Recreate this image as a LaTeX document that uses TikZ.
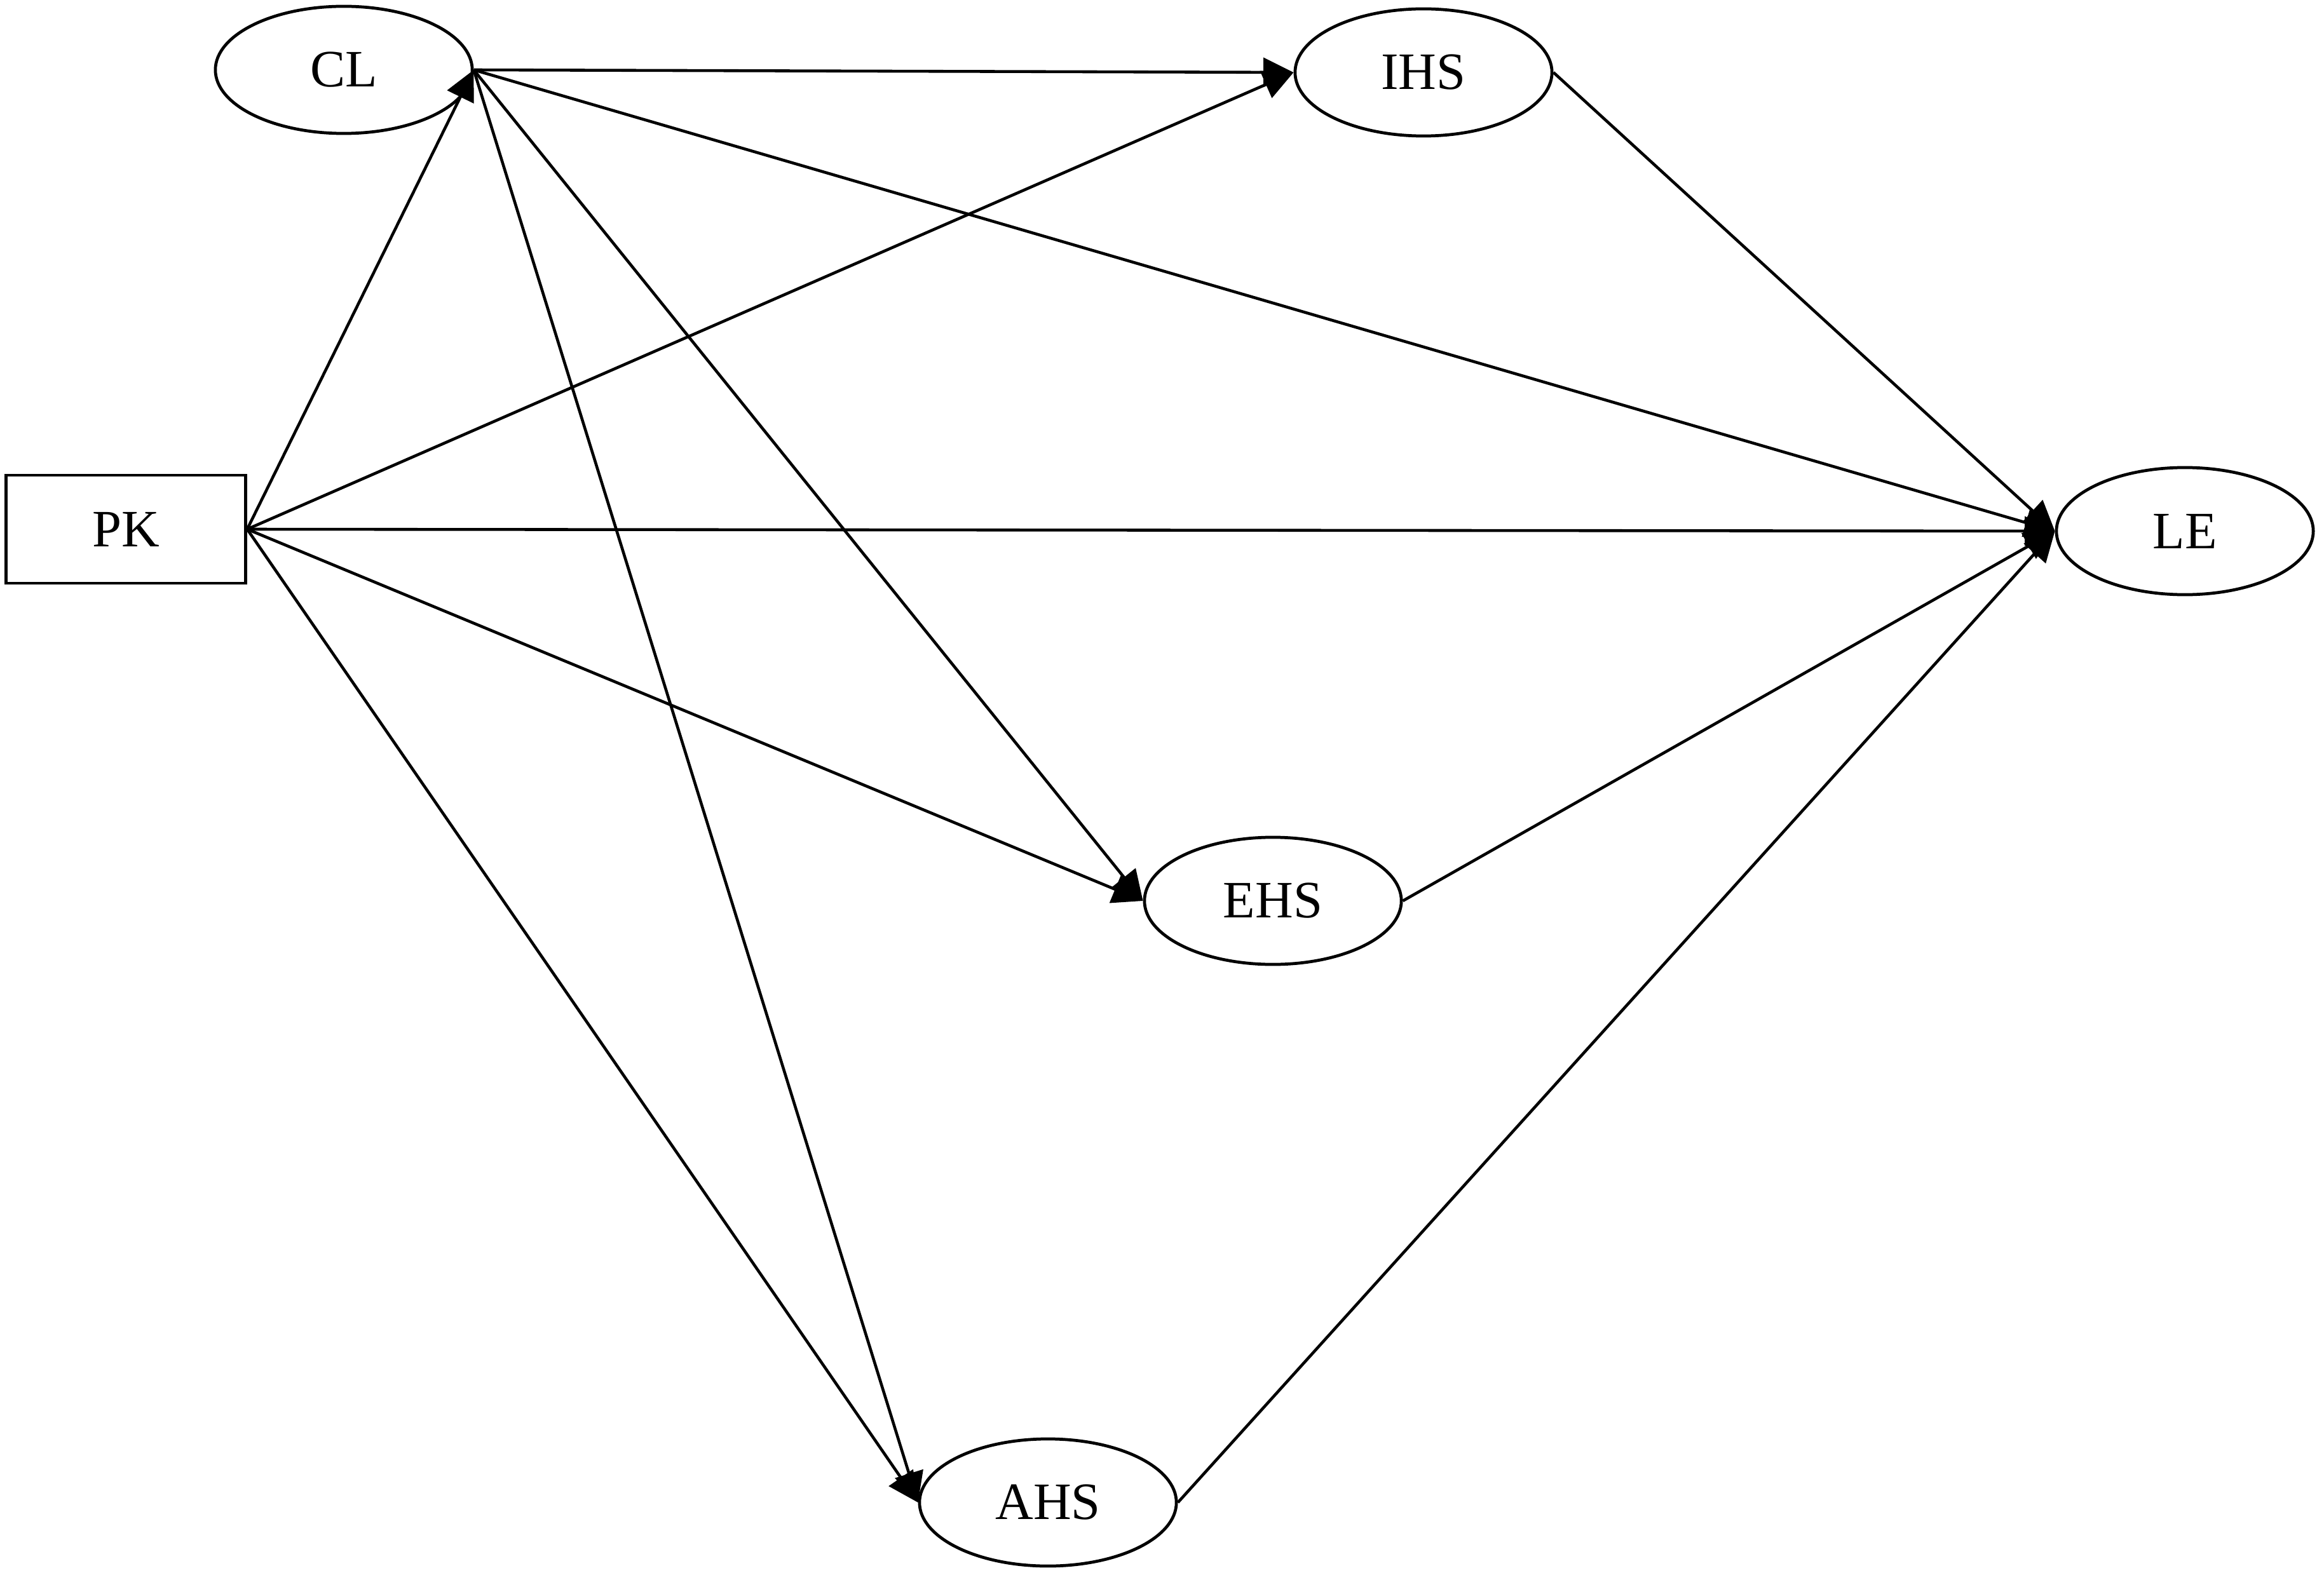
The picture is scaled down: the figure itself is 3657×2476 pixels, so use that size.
\documentclass[tikz,border=0pt]{standalone}
\usepackage{fontspec}
\setmainfont{Liberation Serif}
\usetikzlibrary{shapes.geometric,arrows.meta}
\begin{document}
\begin{tikzpicture}[x=0.01cm,y=-0.01cm,
  lat/.style={draw,ellipse,line width=1.35pt,minimum width=4.04cm,minimum height=2.0cm,inner sep=0pt,font=\fontsize{23.5}{27}\selectfont},
  obs/.style={draw,rectangle,line width=1.35pt,minimum width=3.77cm,minimum height=1.70cm,inner sep=0pt,font=\fontsize{23.5}{27}\selectfont},
  arr/.style={line width=1.3pt,-{Triangle[length=13.5pt,width=13pt]}}]
\useasboundingbox (0,0) rectangle (3657,2476);
\node[obs] (PK) at (198,833) {PK};
\node[lat] (CL) at (541,110) {CL};
\node[lat] (IHS) at (2240,114) {IHS};
\node[lat] (LE) at (3438,836) {LE};
\node[lat] (EHS) at (2003,1418) {EHS};
\node[lat] (AHS) at (1649,2365) {AHS};
\draw[arr] (PK.east) -- (CL.east);
\draw[arr] (PK.east) -- (IHS.west);
\draw[arr] (PK.east) -- (LE.west);
\draw[arr] (PK.east) -- (EHS.west);
\draw[arr] (PK.east) -- (AHS.west);
\draw[arr] (CL.east) -- (IHS.west);
\draw[arr] (CL.east) -- (LE.west);
\draw[arr] (CL.east) -- (EHS.west);
\draw[arr] (CL.east) -- (AHS.west);
\draw[arr] (IHS.east) -- (LE.west);
\draw[arr] (EHS.east) -- (LE.west);
\draw[arr] (AHS.east) -- (LE.west);
\end{tikzpicture}
\end{document}
